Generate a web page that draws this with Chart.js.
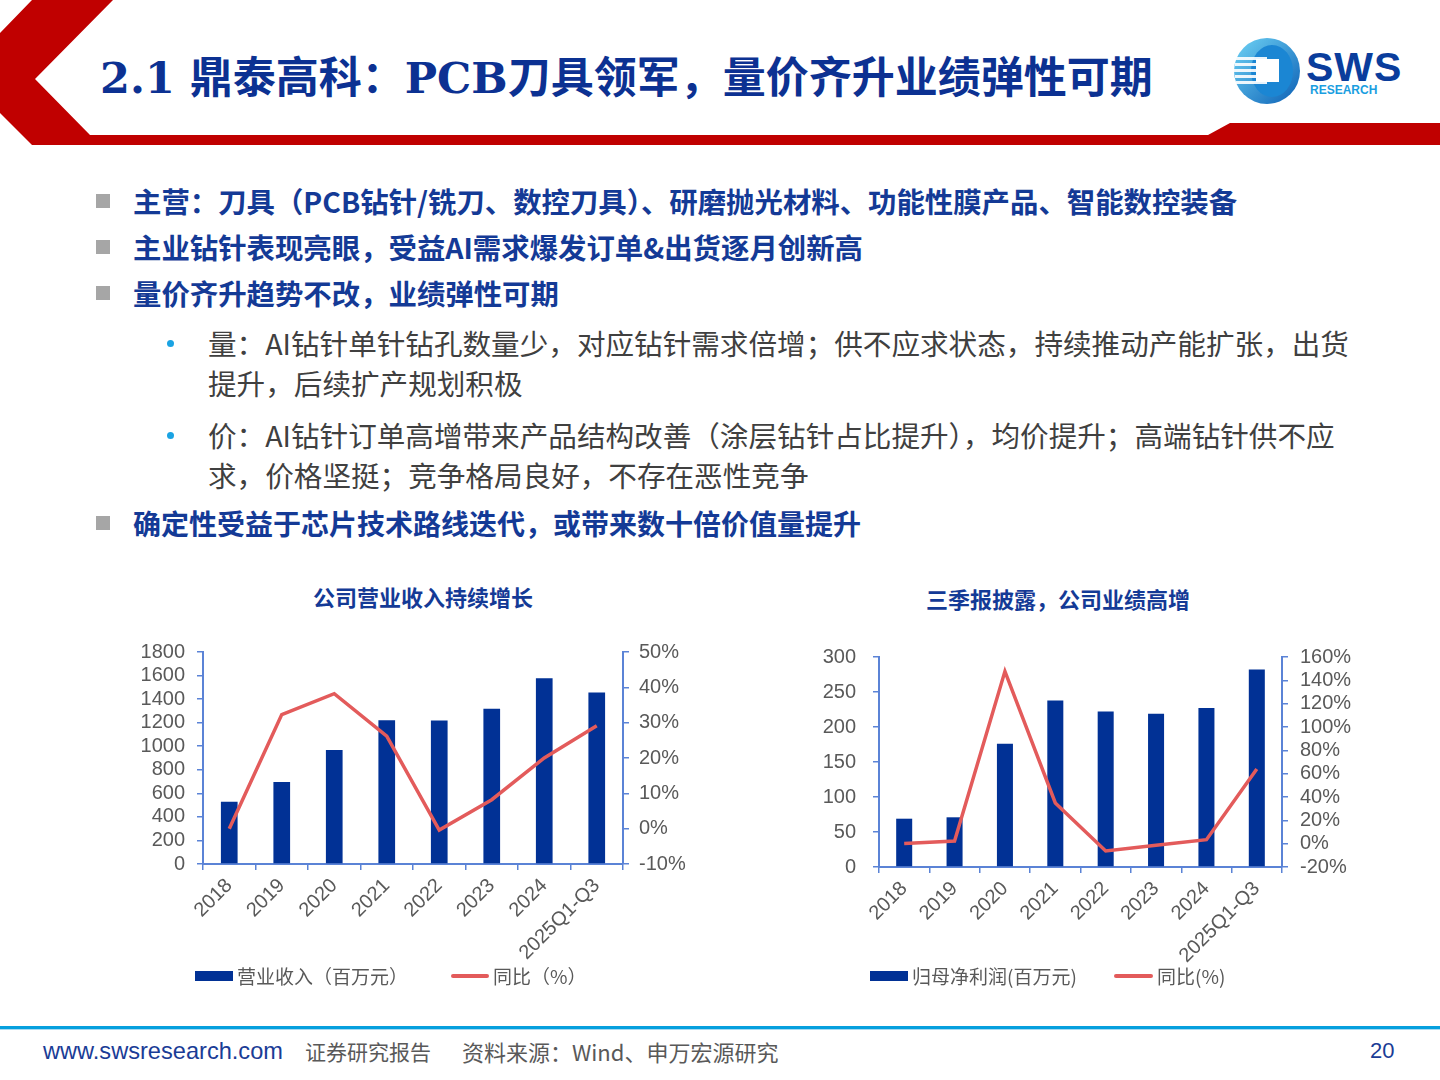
<!DOCTYPE html>
<html>
<head>
<meta charset="utf-8">
<script src="https://cdn.jsdelivr.net/npm/chart.js"></script>
<style>
  body { margin: 0; background: #fff; }
  #slide { position: relative; width: 1440px; height: 1080px; overflow: hidden; background: #fff;
    font-family: "Noto Sans CJK SC", "Liberation Sans", sans-serif; }
  .abs { position: absolute; white-space: nowrap; }
  .title { left: 100px; top: 52px; line-height: 52px; font-size: 43px; font-weight: bold; color: #0c3192;
    font-family: "DejaVu Serif", "Noto Sans CJK SC", serif; }
  .b1 { left: 133px; font-size: 28.4px; line-height: 40px; font-weight: bold; color: #143a96; }
  .sq { position: absolute; left: 96px; width: 14px; height: 14px; background: #a6a6a6; }
  .b2 { left: 208px; font-size: 28.6px; line-height: 40px; color: #404040; }
  .dot { position: absolute; left: 167px; width: 7px; height: 7px; border-radius: 50%; background: #1aa3e3; }
  .ctitle { font-size: 22px; line-height: 30px; font-weight: bold; color: #143a96; }
  .leg { font-size: 19px; line-height: 26px; color: #595959; }
  .foot { top: 1036px; line-height: 30px; font-size: 22px; color: #595959; }
</style>
</head>
<body>
<div id="slide">
  <!-- header -->
  <svg class="abs" style="left:0;top:0" width="1440" height="150">
    <polygon fill="#c00000" points="32,0 113,0 35,79 90,135 1208,135 1230,123 1440,123 1440,145 32,145 0,113 0,33"/>
    <defs>
      <linearGradient id="lg" x1="0" y1="0" x2="1" y2="1">
        <stop offset="0" stop-color="#6fd4f6"/>
        <stop offset="1" stop-color="#0b5fb5"/>
      </linearGradient>
    </defs>
    <circle cx="1267" cy="71" r="33" fill="url(#lg)"/>
    <ellipse cx="1272" cy="71" rx="21" ry="26" fill="#1b86d3"/>
    <rect x="1235" y="57" width="32" height="3" fill="#fff" opacity="0.9"/>
    <rect x="1235" y="63" width="32" height="3" fill="#fff" opacity="0.9"/>
    <rect x="1234" y="69" width="33" height="3" fill="#fff" opacity="0.9"/>
    <rect x="1235" y="75" width="32" height="3" fill="#fff" opacity="0.9"/>
    <rect x="1236" y="81" width="31" height="3" fill="#fff" opacity="0.9"/>
    <rect x="1256" y="59" width="23" height="23" fill="#fff"/>
    <text x="1306" y="81" font-family="Liberation Sans" font-weight="bold" font-size="41" letter-spacing="1" fill="#0a3d9c">SWS</text>
    <text x="1310" y="94" font-family="Liberation Sans" font-weight="bold" font-size="12" fill="#1a9ee0">RESEARCH</text>
  </svg>
  <div class="abs title">2.1 鼎泰高科：PCB刀具领军，量价齐升业绩弹性可期</div>

  <!-- bullets -->
  <div class="sq" style="top:194px"></div>
  <div class="abs b1" style="top:181px">主营：刀具（PCB钻针/铣刀、数控刀具）、研磨抛光材料、功能性膜产品、智能数控装备</div>
  <div class="sq" style="top:240px"></div>
  <div class="abs b1" style="top:227px">主业钻针表现亮眼，受益AI需求爆发订单&amp;出货逐月创新高</div>
  <div class="sq" style="top:286px"></div>
  <div class="abs b1" style="top:273px">量价齐升趋势不改，业绩弹性可期</div>

  <div class="dot" style="top:340px"></div>
  <div class="abs b2" style="top:323px">量：AI钻针单针钻孔数量少，对应钻针需求倍增；供不应求状态，持续推动产能扩张，出货</div>
  <div class="abs b2" style="top:363px">提升，后续扩产规划积极</div>
  <div class="dot" style="top:432px"></div>
  <div class="abs b2" style="top:415px">价：AI钻针订单高增带来产品结构改善（涂层钻针占比提升），均价提升；高端钻针供不应</div>
  <div class="abs b2" style="top:455px">求，价格坚挺；竞争格局良好，不存在恶性竞争</div>

  <div class="sq" style="top:516px"></div>
  <div class="abs b1" style="top:503px;font-size:28px">确定性受益于芯片技术路线迭代，或带来数十倍价值量提升</div>

  <!-- chart titles -->
  <div class="abs ctitle" style="left:313px;top:581px">公司营业收入持续增长</div>
  <div class="abs ctitle" style="left:926px;top:583px">三季报披露，公司业绩高增</div>

  <canvas id="revChart" width="600" height="335" style="position:absolute;left:110px;top:636px"></canvas>
  <canvas id="profitChart" width="600" height="331" style="position:absolute;left:780px;top:640px"></canvas>

  <!-- legends -->
  <div class="abs" style="left:195px;top:971px;width:38px;height:10px;background:#013195"></div>
  <div class="abs leg" style="left:237px;top:963px">营业收入（百万元）</div>
  <div class="abs" style="left:451px;top:974px;width:38px;height:4px;border-radius:2px;background:#e35b5b"></div>
  <div class="abs leg" style="left:493px;top:963px">同比（%）</div>

  <div class="abs" style="left:870px;top:971px;width:38px;height:10px;background:#013195"></div>
  <div class="abs leg" style="left:912px;top:963px">归母净利润(百万元)</div>
  <div class="abs" style="left:1114px;top:974px;width:39px;height:4px;border-radius:2px;background:#e35b5b"></div>
  <div class="abs leg" style="left:1157px;top:963px">同比(%)</div>

  <!-- footer -->
  <div class="abs" style="left:0;top:1026px;width:1440px;height:3px;background:#06a0de"></div>
  <div class="abs" style="left:0;top:1029px;width:1440px;height:1px;background:#a9dcf3"></div>
  <div class="abs foot" style="left:43px;color:#1a3c96;font-family:'Liberation Sans';font-size:23.6px">www.swsresearch.com</div>
  <div class="abs foot" style="left:305px;font-size:21px">证券研究报告</div>
  <div class="abs foot" style="left:462px">资料来源：Wind、申万宏源研究</div>
  <div class="abs foot" style="left:1370px;color:#1a3c96;font-family:'Liberation Sans'">20</div>
</div>

<script>
// 数据
const years = ['2018', '2019', '2020', '2021', '2022', '2023', '2024', '2025Q1-Q3'];
const revenue = [529, 697, 967, 1221, 1218, 1319, 1578, 1457];      // 营业收入（百万元）
const revenueYoy = [0.0, 32.3, 38.2, 26.2, -0.4, 8.2, 20.0, 29.1]; // 同比（%）
const netProfit = [69, 71, 176, 238, 222, 219, 227, 282];          // 归母净利润(百万元)
const netProfitYoy = [0.2, 2.3, 147.7, 34.9, -6.3, -1.4, 3.4, 64.0]; // 同比(%)

// 坐标轴刻度 [min, max, step]
const revAxis = [0, 1800, 200];
const revYoyAxis = [-10, 50, 10];
const profitAxis = [0, 300, 50];
const profitYoyAxis = [-20, 160, 20];

const barColor = '#013195';
const lineColor = '#e35b5b';
const axisColor = '#5b83d6';
const tickColor = '#595959';

Chart.defaults.font.family = '"Liberation Sans", Arial, sans-serif';
Chart.defaults.font.size = 20;
Chart.defaults.color = tickColor;

function axisGrid() {
  return { display: true, drawOnChartArea: false, drawTicks: true, tickLength: 6, color: axisColor, lineWidth: 1.5 };
}

function makeChart(id, values, yoy, leftAxis, rightAxis, sizes) {
  return new Chart(document.getElementById(id), {
    type: 'bar',
    data: {
      labels: years,
      datasets: [
        { type: 'line', data: yoy, yAxisID: 'y1', borderColor: lineColor, borderWidth: 3.5,
          pointRadius: 0, tension: 0, order: 0 },
        { type: 'bar', data: values, yAxisID: 'y', backgroundColor: barColor,
          barPercentage: 0.6, categoryPercentage: 0.53, order: 1 }
      ]
    },
    options: {
      responsive: false,
      animation: false,
      layout: { padding: { top: sizes.top, bottom: 0, left: 0, right: 0 } },
      plugins: { legend: { display: false }, tooltip: { enabled: false } },
      scales: {
        x: {
          grid: axisGrid(),
          border: { color: axisColor, width: 2 },
          ticks: { minRotation: 45, maxRotation: 45, padding: 4, autoSkip: false },
          afterFit: s => { s.height = sizes.bottom; s.paddingLeft = 0; s.paddingRight = 0; }
        },
        y: {
          position: 'left',
          min: leftAxis[0], max: leftAxis[1],
          grid: axisGrid(),
          border: { color: axisColor, width: 2 },
          ticks: { stepSize: leftAxis[2], padding: sizes.padL, autoSkip: false, callback: v => String(v) },
          afterFit: s => { s.width = sizes.left; s.paddingTop = 0; s.paddingBottom = 0; }
        },
        y1: {
          position: 'right',
          min: rightAxis[0], max: rightAxis[1],
          grid: axisGrid(),
          border: { color: axisColor, width: 2 },
          ticks: { stepSize: rightAxis[2], padding: sizes.padR, autoSkip: false, callback: v => v + '%' },
          afterFit: s => { s.width = sizes.right; s.paddingTop = 0; s.paddingBottom = 0; }
        }
      }
    }
  });
}

makeChart('revChart', revenue, revenueYoy, revAxis, revYoyAxis,
  { top: 16, bottom: 107, left: 93, right: 87, padL: 12, padR: 10 });
makeChart('profitChart', netProfit, netProfitYoy, profitAxis, profitYoyAxis,
  { top: 17, bottom: 104, left: 99, right: 98, padL: 17, padR: 12 });
</script>
</body>
</html>
